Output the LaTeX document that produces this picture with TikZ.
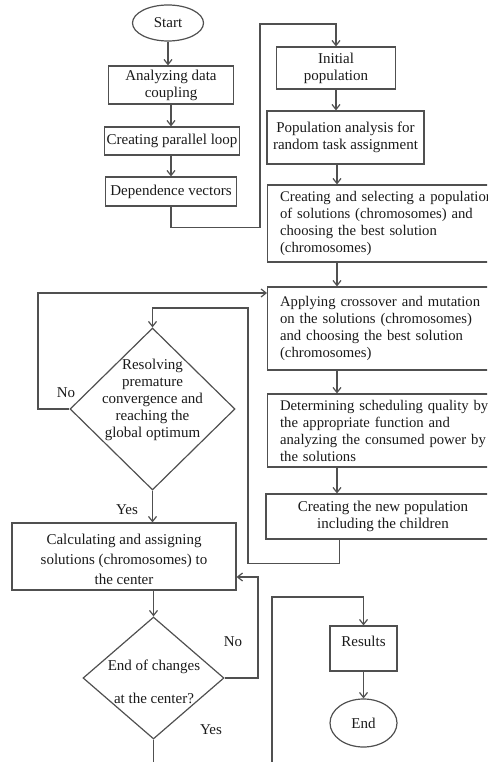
\documentclass[tikz,border=0pt]{standalone}
\usepackage{fontspec}
\setmainfont{Liberation Serif}
\usetikzlibrary{shapes.geometric,arrows.meta,calc}
\definecolor{linec}{HTML}{505050}
\definecolor{txtc}{HTML}{1A1A1A}
\begin{document}
\begin{tikzpicture}[x=1pt,y=-1pt,
  every node/.style={text=txtc, font=\fontsize{15}{17}\selectfont},
  box/.style={draw=linec, line width=1.2pt, rectangle, inner sep=0pt, align=center},
  wbox/.style={draw=linec, line width=1.2pt, rectangle, inner xsep=12.5pt, inner ysep=0pt, anchor=west, text width=230pt, align=left, font=\fontsize{14.7}{17}\selectfont},
  ell/.style={draw=linec, line width=1.2pt, ellipse, inner sep=0pt},
  dia/.style={draw=linec, line width=1.2pt, diamond, inner sep=0pt},
  ln/.style={draw=linec, line width=1.2pt},
  arr/.style={ln, -{Straight Barb[length=5pt,width=8pt]}},
  lbl/.style={inner sep=0pt}]
\useasboundingbox (0,0) rectangle (487,762);
\clip (0,0) rectangle (487,762);
\coordinate (colx) at (337,0);

% left column
\node[ell, minimum width=71pt, minimum height=36pt] (start) at (168,23) {Start};
\node[box, minimum width=125pt, minimum height=38pt] (adc) at (171,85) {Analyzing data\\coupling};
\node[box, minimum width=135pt, minimum height=28pt] (cpl) at (172,141) {Creating parallel loop};
\node[box, minimum width=131pt, minimum height=29pt] (dv) at (171,191.5) {Dependence vectors};

% right column
\node[box, minimum width=119pt, minimum height=42pt] (ip) at (336,68) {Initial\\population};
\node[box, minimum width=157pt, minimum height=53pt] (pa) at (345.5,137.5) {Population analysis for\\random task assignment};
\node[wbox, minimum height=77pt] (cs) at (267,223.5) {Creating and selecting a population\\of solutions (chromosomes) and\\choosing the best solution\\(chromosomes)};
\node[wbox, minimum height=83pt] (ac) at (267,328.5) {Applying crossover and mutation\\on the solutions (chromosomes)\\and choosing the best solution\\(chromosomes)};
\node[wbox, minimum height=73pt] (det) at (267,430.5) {Determining scheduling quality by\\the appropriate function and\\analyzing the consumed power by\\the solutions};
\node[box, minimum width=234pt, minimum height=45pt] (np) at (383,516.5) {Creating the new population\\including the children};

% decision 1
\node[dia, minimum width=165pt, minimum height=162pt] (d1) at (152.5,409) {};
\node[lbl, align=center] (d1txt) at (152.5,400) {Resolving\\premature\\convergence and\\reaching the\\global optimum};

% lower left
\node[box, minimum width=224pt, minimum height=67pt, font=\fontsize{15}{20}\selectfont] (calc) at (124,556.5) {\rule{0pt}{17pt}Calculating and assigning\\solutions (chromosomes) to\\the center};
\node[dia, minimum width=141pt, minimum height=122pt] (d2) at (153.5,678) {};
\node[lbl, align=center] (d2txt) at (154,681.5) {End of changes\\[16pt]at the center?};

% results
\node[box, minimum width=67pt, minimum height=45pt, text depth=15pt] (res) at (363.5,648.5) {Results};
\node[ell, minimum width=67pt, minimum height=48pt] (endn) at (363.5,723) {End};

% labels
\node[lbl] (no1) at (66,393) {No};
\node[lbl] (yes1) at (127,510) {Yes};
\node[lbl] (no2) at (233,642) {No};
\node[lbl] (yes2) at (211,730) {Yes};

% connectors
\draw[arr] (start.south) -- (start.south |- adc.north);
\draw[arr] (adc.south) -- (adc.south |- cpl.north);
\draw[arr] (cpl.south -| adc.south) -- (adc.south |- dv.north);
\draw[arr] (dv.south) -- ++(0,21) -| (260,24) -| (ip.north);
\draw[arr] (ip.south) -- (ip.south |- pa.north);
\draw[arr] (pa.south -| colx) -- (cs.north -| colx);
\draw[arr] (cs.south -| colx) -- (ac.north -| colx);
\draw[arr] (ac.south -| colx) -- (det.north -| colx);
\draw[arr] (det.south -| colx) -- (np.north -| colx);
\draw[arr] ($(np.south west)+(74,0)$) -- ++(0,24) -| (248,308) -| (d1.north);
\draw[arr] (d1.west) -| (38,293) -- (ac.west |- 0,293);
\draw[arr] (d1.south) -- (d1.south |- calc.north);
\draw[arr] (calc.south -| d2.north) -- (d2.north);
\draw[arr] (d2.east) -| (258,577) -- (calc.east |- 0,577);
\draw[arr] (d2.south) -- (d2.south |- 0,790) -| (272,597) -| (res.north);
\draw[arr] (res.south) -- (endn.north);
\end{tikzpicture}
\end{document}
